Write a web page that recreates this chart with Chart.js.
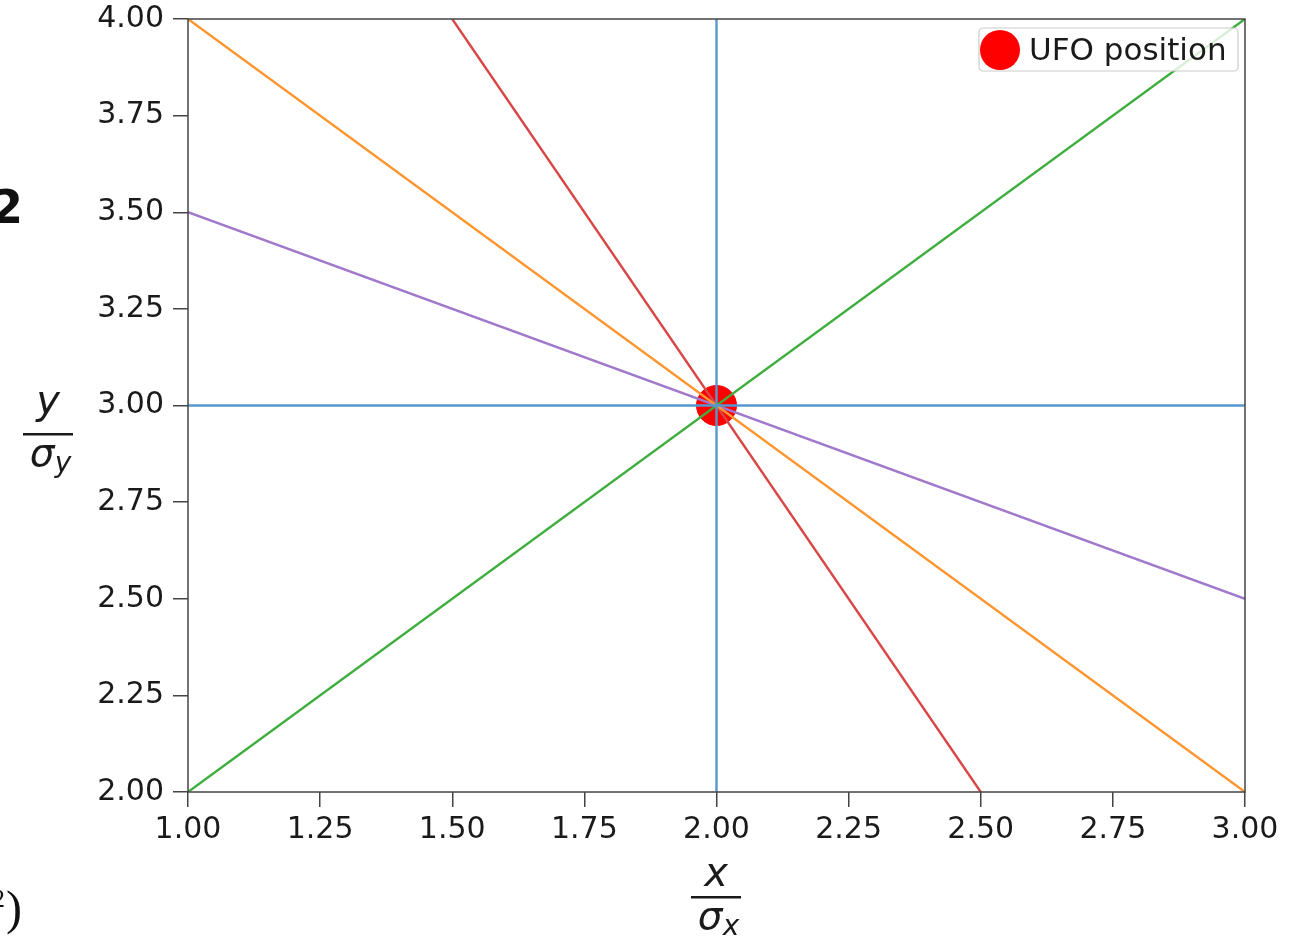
<!DOCTYPE html>
<html>
<head>
<meta charset="utf-8">
<script src="https://cdn.jsdelivr.net/npm/chart.js@4.4.1/dist/chart.umd.min.js"></script>
<style>
  html, body { margin: 0; padding: 0; background: #fff; }
  #wrap { position: relative; width: 1294px; height: 938px; overflow: hidden; }
  canvas { position: absolute; left: 0; top: 0; }
  .edge { position: absolute; color: #111; }
</style>
</head>
<body>
<div id="wrap">
  <canvas id="plot" width="1294" height="938"></canvas>
  <span class="edge" style="left:-9px; top:180px; font: bold 46px 'DejaVu Sans';">2</span>
  <span class="edge" style="left:-8px; top:884px; font: 26px 'Liberation Serif';">2</span>
  <span class="edge" style="left:6px; top:880px; font: 48px 'Liberation Serif';">)</span>
</div>
<script>
// line endpoints through the UFO position
const verticalX = [2, 2],         verticalY = [2, 4];
const horizontalX = [1, 3],       horizontalY = [3, 3];
const slopeUpX = [1, 3],          slopeUpY = [2, 4];
const slopeDownX = [1, 3],        slopeDownY = [4, 2];
const slopeSteepX = [1.5, 2.5],   slopeSteepY = [4, 2];
const slopeShallowX = [1, 3],     slopeShallowY = [3.5, 2.5];
const ufoX = [2], ufoY = [3];
const ufoLabel = "UFO position";

const xMin = 1, xMax = 3, yMin = 2, yMax = 4, tickStep = 0.25;

function pts(xs, ys) {
  return xs.map((x, i) => ({x: x, y: ys[i]}));
}

function line(xs, ys, color) {
  return {
    data: pts(xs, ys),
    showLine: true,
    borderColor: color,
    borderWidth: 2.4,
    pointRadius: 0,
    pointHoverRadius: 0,
    fill: false,
    order: 1
  };
}

const FONT = "DejaVu Sans";
const INK = "#1a1a1a";

// frame, fraction axis titles and legend box
const decorations = {
  id: "decorations",
  afterDatasetsDraw(chart) {
    const ctx = chart.ctx;
    const a = chart.chartArea;
    ctx.save();
    ctx.strokeStyle = "#444";
    ctx.lineWidth = 1.5;
    ctx.strokeRect(a.left, a.top, a.right - a.left, a.bottom - a.top);

    // legend
    const bx = 979, by = 28, bw = 259, bh = 43;
    ctx.fillStyle = "rgba(255,255,255,0.8)";
    ctx.strokeStyle = "#cccccc";
    ctx.lineWidth = 1.2;
    ctx.beginPath();
    ctx.roundRect(bx, by, bw, bh, 4);
    ctx.fill();
    ctx.stroke();
    ctx.fillStyle = "#ff0000";
    ctx.beginPath();
    ctx.arc(1000, 50, 20, 0, Math.PI * 2);
    ctx.fill();
    ctx.fillStyle = INK;
    ctx.font = "31px '" + FONT + "'";
    ctx.textAlign = "left";
    ctx.textBaseline = "alphabetic";
    ctx.fillText(ufoLabel, 1029, 60);

    // y / sigma_y
    function fraction(cx, topY, lineY, top, sub) {
      ctx.fillStyle = INK;
      ctx.textAlign = "center";
      ctx.font = "italic 40px '" + FONT + "'";
      ctx.fillText(top, cx, topY);
      ctx.fillRect(cx - 25, lineY, 50, 2.5);
      ctx.font = "italic 39px '" + FONT + "'";
      ctx.fillText("\u03c3", cx - 6, lineY + 33);
      ctx.font = "italic 28px '" + FONT + "'";
      ctx.fillText(sub, cx + 15, lineY + 39);
    }
    fraction(48, 414, 433, "y", "y");
    fraction(716, 886, 896, "x", "x");
    ctx.restore();
  }
};

const chart = new Chart(document.getElementById("plot"), {
  type: "scatter",
  data: {
    datasets: [
      line(verticalX, verticalY, "#5597cf"),
      line(horizontalX, horizontalY, "#5597cf"),
      line(slopeUpX, slopeUpY, "#3fae3f"),
      line(slopeDownX, slopeDownY, "#ff952e"),
      line(slopeSteepX, slopeSteepY, "#d94646"),
      line(slopeShallowX, slopeShallowY, "#a078cc"),
      {
        label: ufoLabel,
        data: pts(ufoX, ufoY),
        backgroundColor: "#ff0000",
        borderColor: "#ff0000",
        pointRadius: 20,
        pointHoverRadius: 20,
        order: 5
      }
    ]
  },
  options: {
    responsive: false,
    devicePixelRatio: 1,
    animation: false,
    layout: { autoPadding: false, padding: { top: 19, right: 49, left: 0, bottom: 0 } },
    plugins: {
      legend: { display: false },
      tooltip: { enabled: false }
    },
    scales: {
      x: {
        type: "linear",
        min: xMin, max: xMax,
        afterFit(axis) {
          axis.height = 146;
          axis.paddingLeft = 0;
          axis.paddingRight = 0;
        },
        afterBuildTicks(axis) {
          axis.ticks = [];
          for (let v = xMin; v <= xMax + 1e-9; v += tickStep) axis.ticks.push({value: v});
        },
        border: { display: false },
        grid: { drawOnChartArea: false, drawTicks: true, tickLength: 15, color: "#444", lineWidth: 1.5 },
        ticks: {
          color: INK, padding: 5,
          font: { family: FONT, size: 30 },
          maxRotation: 0,
          callback: v => v.toFixed(2)
        }
      },
      y: {
        type: "linear",
        min: yMin, max: yMax,
        afterFit(axis) {
          axis.width = 188;
          axis.paddingTop = 0;
          axis.paddingBottom = 0;
        },
        afterBuildTicks(axis) {
          axis.ticks = [];
          for (let v = yMin; v <= yMax + 1e-9; v += tickStep) axis.ticks.push({value: v});
        },
        border: { display: false },
        grid: { drawOnChartArea: false, drawTicks: true, tickLength: 15, color: "#444", lineWidth: 1.5 },
        ticks: {
          color: INK, padding: 9,
          font: { family: FONT, size: 30 },
          callback: v => v.toFixed(2)
        }
      }
    }
  },
  plugins: [decorations]
});
</script>
</body>
</html>
